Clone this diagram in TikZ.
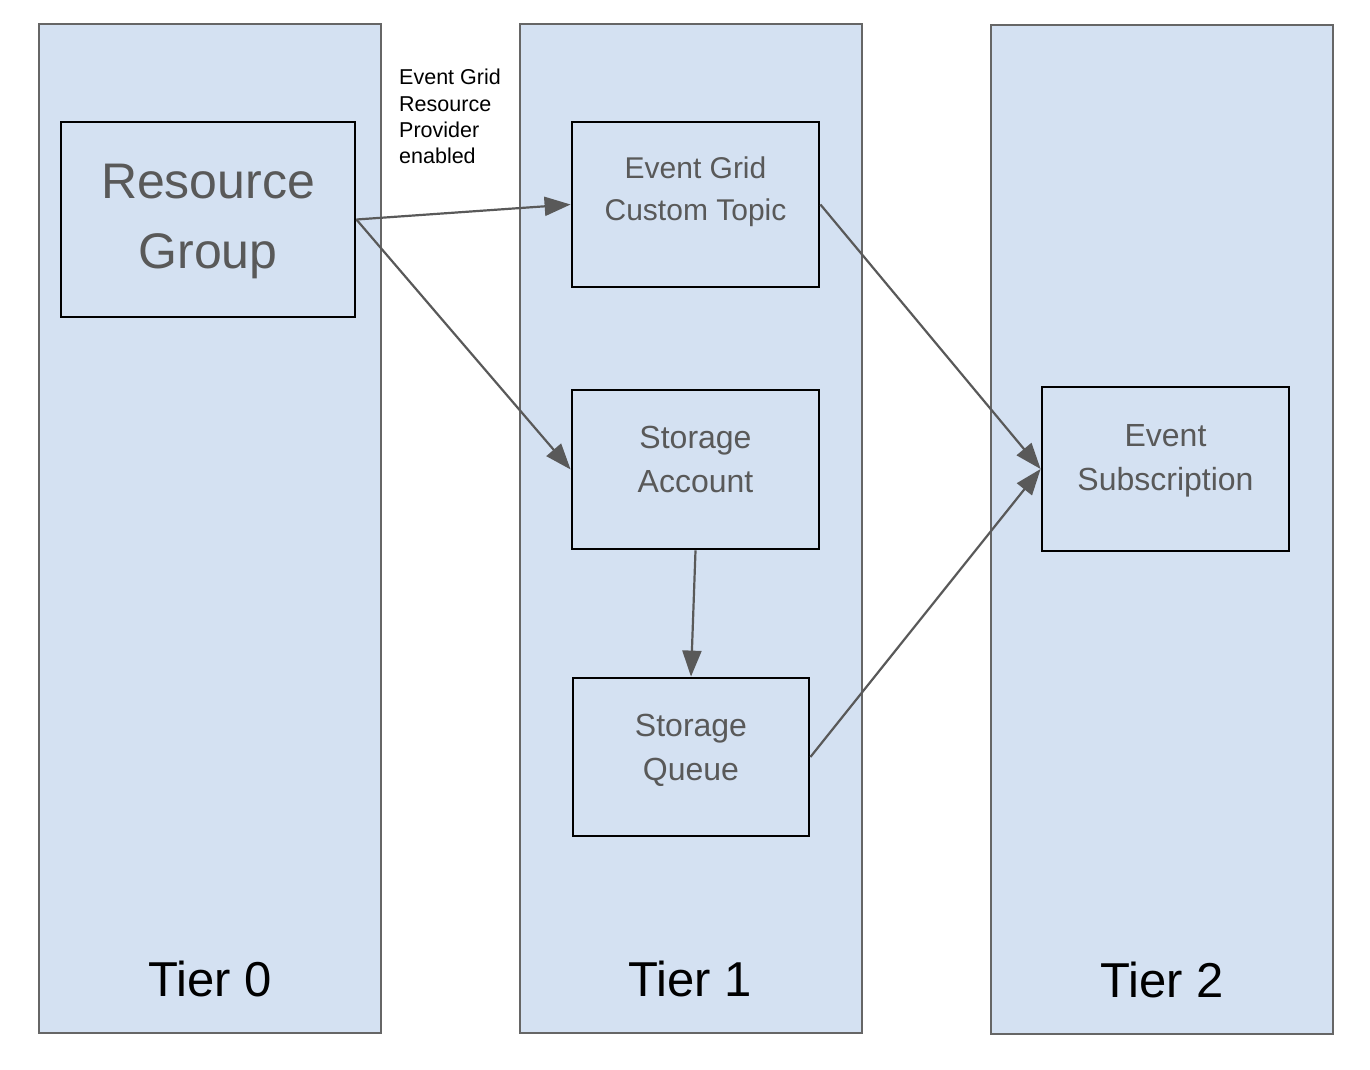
\documentclass[tikz,border=0pt]{standalone}
\usepackage{fontspec}
\setmainfont{Liberation Sans}
\usetikzlibrary{positioning, arrows.meta}
\definecolor{tierblue}{HTML}{D4E1F2}
\definecolor{tierline}{HTML}{666666}
\definecolor{textgray}{HTML}{595959}

\begin{document}
\begin{tikzpicture}[x=1pt, y=-1pt,
	tier/.style={draw=tierline, fill=tierblue, line width=2pt, minimum width=342pt, minimum height=1009pt, inner sep=0pt},
	res/.style={draw=black, fill=tierblue, line width=2.8pt, inner sep=0pt},
	restext/.style={text=textgray, align=center, font=\fontsize{32}{44}\selectfont},
	tiertext/.style={font=\fontsize{49}{58}\selectfont},
	flow/.style={draw=textgray, line width=2.2pt, -{Triangle[length=26pt, width=19pt]}}]
			\useasboundingbox (0,0) rectangle (1370,1070);
			% tiers
			\node (t0) [tier] at (210,528.5) {};
			\node (t1) [tier] at (691,528.5) {};
			\node (t2) [tier] at (1162,529.5) {};
			\node (t0lbl) [tiertext] at (210,979) {Tier 0};
			\node (t1lbl) [tiertext] at (690,979) {Tier 1};
			\node (t2lbl) [tiertext] at (1162,980) {Tier 2};
			
			% resources
			\node (rg) [res, minimum width=294pt, minimum height=195pt] at (208,219.5) {};
			\node (topic) [res, minimum width=247pt, minimum height=165pt] at (695.5,204.5) {};
			\node (acct) [res, minimum width=247pt, minimum height=159pt] at (695.5,469.5) {};
			\node (queue) [res, minimum width=236pt, minimum height=158pt] at (691,757) {};
			\node (sub) [res, minimum width=247pt, minimum height=164pt] at (1165.5,469) {};
			
			\node (rgtxt) [restext, font=\fontsize{50}{70}\selectfont, yshift=-2pt] at (rg.center) {Resource\\Group};
			\node (topictxt) [restext, font=\fontsize{30}{42}\selectfont, yshift=13pt] at (topic.center) {Event Grid\\Custom Topic};
			\node (accttxt) [restext, yshift=10pt] at (acct.center) {Storage\\Account};
			\node (queuetxt) [restext, yshift=7pt] at (queue.center) {Storage\\Queue};
			\node (subtxt) [restext, yshift=8pt] at (sub.center) {Event\\Subscription};
			
			\node (note) [anchor=north west, inner sep=0pt, align=left, font=\fontsize{21.5}{26.3}\selectfont] at (399,69) {Event Grid\\Resource\\Provider\\enabled};
			
			% dependencies
			\draw [flow] (rg.east) -- (topic.west);
			\draw [flow] (rg.east) -- (acct.west);
			\draw [flow] (acct.south) -- (queue.north);
			\draw [flow] (topic.east) -- (sub.west);
			\draw [flow] (queue.east) -- (sub.west);
		\end{tikzpicture}
\end{document}
